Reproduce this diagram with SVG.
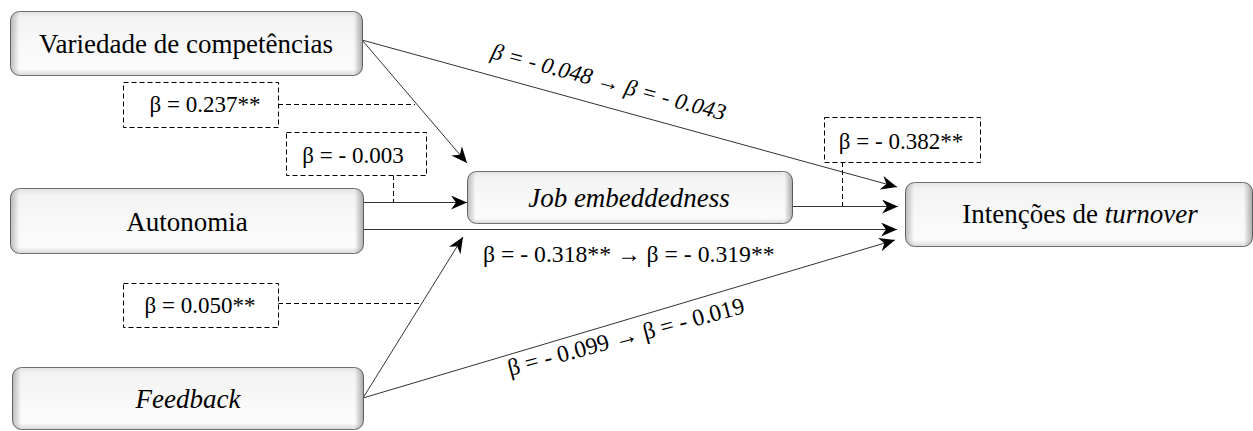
<svg xmlns="http://www.w3.org/2000/svg" width="1253" height="431" viewBox="0 0 1253 431">
  <defs>
    <linearGradient id="boxV" x1="0" y1="0" x2="0" y2="1">
      <stop offset="0" stop-color="#e2e2e2"/>
      <stop offset="0.1" stop-color="#f3f3f3"/>
      <stop offset="0.5" stop-color="#f8f8f8"/>
      <stop offset="0.9" stop-color="#fbfbfb"/>
      <stop offset="1" stop-color="#d8d8d8"/>
    </linearGradient>
    <linearGradient id="boxH" x1="0" y1="0" x2="1" y2="0">
      <stop offset="0" stop-color="#000" stop-opacity="0.25"/>
      <stop offset="0.025" stop-color="#000" stop-opacity="0"/>
      <stop offset="0.975" stop-color="#000" stop-opacity="0"/>
      <stop offset="1" stop-color="#000" stop-opacity="0.32"/>
    </linearGradient>
    <marker id="arrow" markerUnits="userSpaceOnUse" markerWidth="17" markerHeight="14" refX="16" refY="7" orient="auto">
      <path d="M0,0 L16,7 L0,14 L5,7 Z" fill="#000"/>
    </marker>
  </defs>
  <style>
    .box { fill: url(#boxV); stroke: #6f6f6f; stroke-width: 1; }
    .shade { fill: url(#boxH); stroke: none; }
    text { font-family: 'Liberation Serif', 'Times New Roman', serif; fill: #000; }
    .label { font-size: 27px; text-anchor: middle; }
    .coef { font-size: 23px; }
    .wide { font-size: 23.7px; }
    .mid { text-anchor: middle; }
    .it { font-style: italic; }
    .arr { font-weight: bold; font-style: normal; }
    .dbox { fill: #fff; stroke: #000; stroke-width: 1; stroke-dasharray: 5 3; }
    .dline { fill: none; stroke: #000; stroke-width: 1; stroke-dasharray: 5 3; }
    .edge { fill: none; stroke: #333; stroke-width: 1; marker-end: url(#arrow); }
  </style>

  <!-- connectors -->
  <g id="connectors">
    <line class="edge" x1="362" y1="40" x2="897" y2="187"/>
    <line class="edge" x1="362" y1="40" x2="467" y2="163"/>
    <line class="edge" x1="363" y1="202.5" x2="467" y2="202.5"/>
    <line class="edge" x1="363" y1="229.5" x2="897" y2="229.5"/>
    <line class="edge" x1="792" y1="206.5" x2="898" y2="206.5"/>
    <line class="edge" x1="363" y1="398" x2="463" y2="237"/>
    <line class="edge" x1="363" y1="398" x2="895" y2="240"/>
    <!-- dashed leaders from coefficient boxes -->
    <line class="dline" x1="278" y1="104.5" x2="415" y2="104.5"/>
    <line class="dline" x1="393.5" y1="175" x2="393.5" y2="202"/>
    <line class="dline" x1="278" y1="303.5" x2="420" y2="303.5"/>
    <line class="dline" x1="842.5" y1="162" x2="842.5" y2="206"/>
  </g>

  <!-- path coefficients on the lines -->
  <g id="path-labels">
    <text class="coef it" transform="translate(490,58) rotate(15)">β = - 0.048 <tspan class="arr">→</tspan> β = - 0.043</text>
    <text class="coef wide" x="483" y="262">β = - 0.318** <tspan class="arr">→</tspan> β = - 0.319**</text>
    <text class="coef wide" transform="translate(510,376) rotate(-15)">β = - 0.099 <tspan class="arr">→</tspan> β = - 0.019</text>
  </g>

  <!-- dashed coefficient boxes -->
  <g id="coef-skill">
    <rect class="dbox" x="123.5" y="82.5" width="155" height="45"/>
    <text class="coef mid" x="205" y="112">β = 0.237**</text>
  </g>
  <g id="coef-autonomy">
    <rect class="dbox" x="286.5" y="132.5" width="140" height="43"/>
    <text class="coef mid" x="353" y="163">β = - 0.003</text>
  </g>
  <g id="coef-feedback">
    <rect class="dbox" x="123.5" y="283.5" width="155" height="44"/>
    <text class="coef mid" x="200" y="313">β = 0.050**</text>
  </g>
  <g id="coef-embeddedness">
    <rect class="dbox" x="824.5" y="117.5" width="156" height="45"/>
    <text class="coef mid" x="901" y="149">β = - 0.382**</text>
  </g>

  <!-- nodes -->
  <g id="node-variedade">
    <rect class="box" x="10.5" y="11.5" width="352" height="64" rx="9"/>
    <rect class="shade" x="10.5" y="11.5" width="352" height="64" rx="9"/>
    <text class="label" x="186" y="53">Variedade de competências</text>
  </g>
  <g id="node-autonomia">
    <rect class="box" x="10.5" y="188.5" width="353" height="65" rx="9"/>
    <rect class="shade" x="10.5" y="188.5" width="353" height="65" rx="9"/>
    <text class="label" x="187" y="231">Autonomia</text>
  </g>
  <g id="node-feedback">
    <rect class="box" x="12.5" y="367.5" width="351" height="62" rx="9"/>
    <rect class="shade" x="12.5" y="367.5" width="351" height="62" rx="9"/>
    <text class="label it" x="188" y="408">Feedback</text>
  </g>
  <g id="node-job">
    <rect class="box" x="467.5" y="171.5" width="325" height="52" rx="9"/>
    <rect class="shade" x="467.5" y="171.5" width="325" height="52" rx="9"/>
    <text class="label it" x="629" y="207">Job embeddedness</text>
  </g>
  <g id="node-turnover">
    <rect class="box" x="905.5" y="182.5" width="347" height="64" rx="9"/>
    <rect class="shade" x="905.5" y="182.5" width="347" height="64" rx="9"/>
    <text class="label" x="1080" y="223">Intenções de <tspan class="it">turnover</tspan></text>
  </g>
</svg>
